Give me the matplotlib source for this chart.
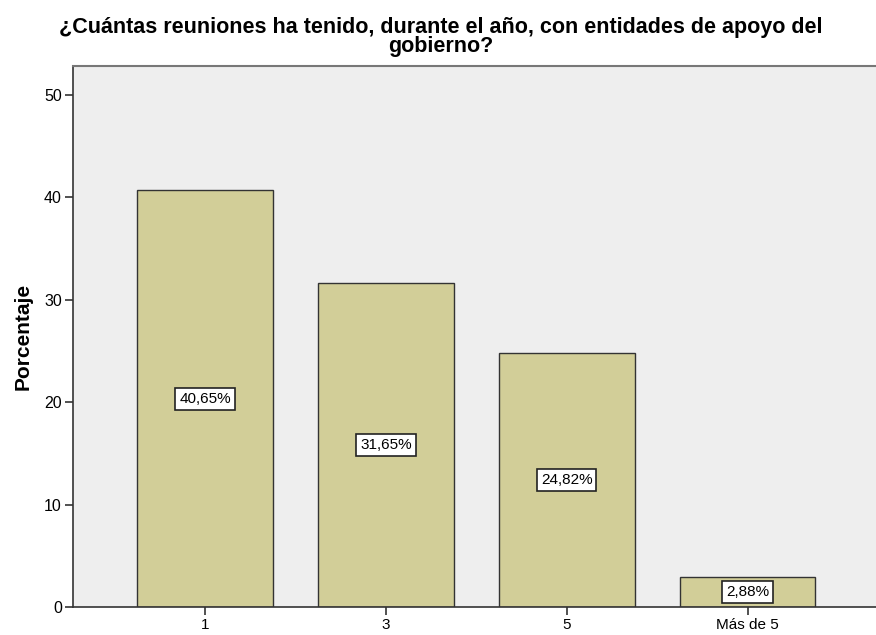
import matplotlib
matplotlib.use("Agg")
import matplotlib.pyplot as plt

categories = ["1", "3", "5", "Más de 5"]
percentages = [40.65, 31.65, 24.82, 2.88]
yticks = [0, 10, 20, 30, 40, 50]

plt.rcParams['font.family'] = ['Liberation Sans', 'DejaVu Sans']

fig = plt.figure(figsize=(8.76, 6.35), dpi=100)
ax = fig.add_axes([73 / 876, 1 - 607 / 635, (876 - 73) / 876, (607 - 66) / 635])
ax.set_facecolor("#eeeeee")

x = range(len(categories))
ax.bar(x, percentages, width=0.75, color="#d2ce98", edgecolor="#333333", linewidth=1.0, zorder=2)

for xi, v in zip(x, percentages):
  ax.text(xi, v / 2, f"{v:.2f}%".replace(".", ","), ha="center", va="center", fontsize=11,
          bbox=dict(boxstyle="square,pad=0.25", facecolor="white", edgecolor="#222222", linewidth=1.2),
          zorder=3)

ax.set_xlim(-0.73, 3.71)
ax.set_ylim(0, 52.8)
ax.set_xticks(list(x))
ax.set_xticklabels(categories, fontsize=11)
ax.set_yticks(yticks)
ax.set_yticklabels([str(t) for t in yticks], fontsize=11.5)
ax.tick_params(axis="both", length=6, width=1.2, color="#333333", pad=2)

for side in ["left", "bottom"]:
  ax.spines[side].set_color("#333333")
  ax.spines[side].set_linewidth(1.2)
ax.spines["top"].set_color("#777777")
ax.spines["top"].set_linewidth(1.5)
ax.spines["right"].set_visible(False)

ax.set_ylabel("Porcentaje", fontsize=15, fontweight="bold", labelpad=8)
fig.text(0.503, 1 - 37 / 635, "¿Cuántas reuniones ha tenido, durante el año, con entidades de apoyo del\ngobierno?",
         ha="center", va="center", fontsize=15.5, fontweight="bold", linespacing=0.85)

fig.savefig("out.png", dpi=100)
